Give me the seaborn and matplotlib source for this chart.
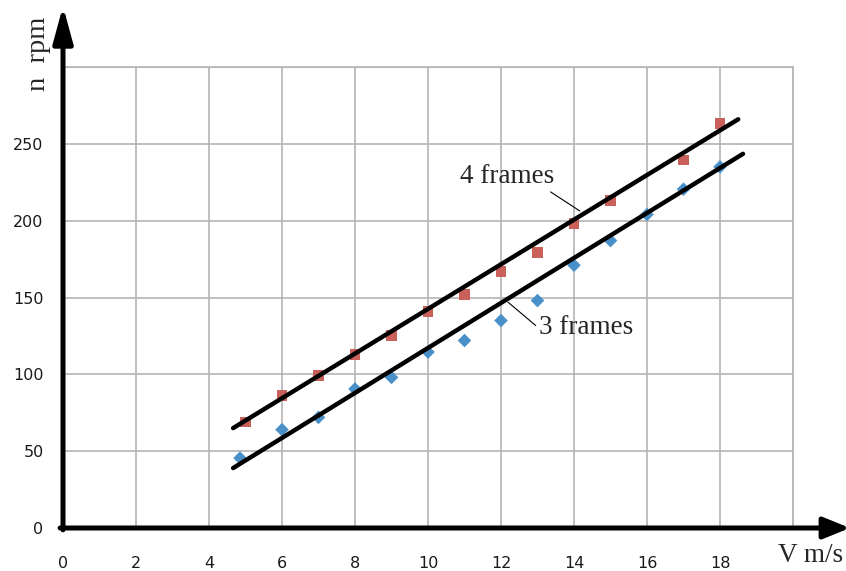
import matplotlib
matplotlib.use("Agg")
import matplotlib.pyplot as plt
import seaborn as sns

# Measured rotor speed versus wind speed
speed_4 = [5, 6, 7, 8, 9, 10, 11, 12, 13, 14, 15, 17, 18]
rpm_4 = [69, 86.5, 99.5, 113, 125, 141, 152, 167, 179, 198, 213, 239.5, 263]

speed_3 = [4.85, 6, 7, 8, 9, 10, 11, 12, 13, 14, 15, 16, 17, 18]
rpm_3 = [45.5, 64, 72, 90.5, 98, 114.5, 122, 135, 148, 171, 187, 204, 220.5, 235]

# Straight-line trends for each configuration
trend_x_4 = [4.66, 18.5]
trend_y_4 = [65, 266]
trend_x_3 = [4.66, 18.63]
trend_y_3 = [39, 243.5]

x_ticks = [0, 2, 4, 6, 8, 10, 12, 14, 16, 18, 20]
x_labels = ["0", "2", "4", "6", "8", "10", "12", "14", "16", "18", ""]
y_ticks = [0, 50, 100, 150, 200, 250, 300]
y_labels = ["0", "50", "100", "150", "200", "250", ""]

sns.set_style("whitegrid", {"grid.color": "#b4b4b4"})
plt.rcParams["font.family"] = ["DejaVu Sans"]

fig = plt.figure(figsize=(8.46, 5.71), dpi=100)
ax = fig.add_axes([63 / 846, 1 - 528 / 571, 730 / 846, 461 / 571])

sns.lineplot(x=trend_x_4, y=trend_y_4, color="black", lw=3.2, ax=ax, zorder=4)
sns.lineplot(x=trend_x_3, y=trend_y_3, color="black", lw=3.2, ax=ax, zorder=4)
sns.scatterplot(x=speed_4, y=rpm_4, marker="s", color="#c9605a", s=62,
                edgecolor="none", ax=ax, zorder=3)
sns.scatterplot(x=speed_3, y=rpm_3, marker="D", color="#4a90c8", s=48,
                edgecolor="none", ax=ax, zorder=3)

ax.set_xlim(0, 20)
ax.set_ylim(0, 300)
ax.set_xticks(x_ticks)
ax.set_xticklabels(x_labels)
ax.set_yticks(y_ticks)
ax.set_yticklabels(y_labels)
ax.grid(True, color="#b4b4b4", lw=1.2)
ax.tick_params(axis="both", length=0, labelsize=11.5, labelcolor="#1a1a1a")
ax.tick_params(axis="x", pad=20)
ax.tick_params(axis="y", pad=14)

for side in ("top", "right"):
    ax.spines[side].set_color("#b4b4b4")
    ax.spines[side].set_linewidth(1.2)
for side in ("left", "bottom"):
    ax.spines[side].set_visible(False)

# Thick axes with arrow heads
arrow_kw = dict(arrowstyle="-|>,head_length=2.2,head_width=0.6", color="black",
                lw=3.6, shrinkA=0, shrinkB=0, mutation_scale=10)
ax.annotate("", xy=(0, 1.132), xytext=(0, -0.004), xycoords="axes fraction",
            textcoords="axes fraction", arrowprops=arrow_kw, annotation_clip=False)
ax.annotate("", xy=(1.078, 0), xytext=(-0.004, 0), xycoords="axes fraction",
            textcoords="axes fraction",
            arrowprops=dict(arrow_kw, arrowstyle="-|>,head_length=1.6,head_width=0.65"),
            annotation_clip=False)

serif = ["Liberation Serif", "DejaVu Serif"]
fig.text(38 / 846, 1 - 54 / 571, "n  rpm", rotation=90, ha="center", va="center",
         fontsize=20.5, family=serif)
fig.text(843 / 846, 1 - 555 / 571, "V m/s", ha="right", va="center",
         fontsize=19.5, family=serif)

# Series labels with leader lines
ax.annotate("4 frames", xy=(14.16, 206.3), xytext=(12.16, 229), ha="center", va="center",
            fontsize=19.5, family=serif,
            arrowprops=dict(arrowstyle="-", color="black", lw=0.8,
                            shrinkA=0, shrinkB=0, relpos=(0.87, 0.1)))
ax.annotate("3 frames", xy=(12.19, 147), xytext=(14.33, 130.8), ha="center", va="center",
            fontsize=19.5, family=serif,
            arrowprops=dict(arrowstyle="-", color="black", lw=0.8,
                            shrinkA=0, shrinkB=0, relpos=(0.0, 0.45)))

fig.savefig("out.png", dpi=100)
